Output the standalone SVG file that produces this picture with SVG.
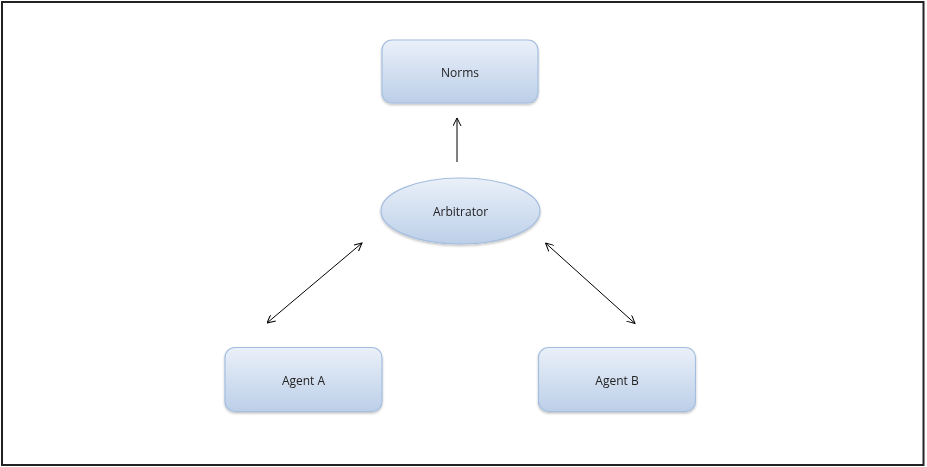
<svg xmlns="http://www.w3.org/2000/svg" width="927" height="467" viewBox="0 0 927 467">
<style>
.box{fill:url(#g);stroke:#a4bedf;stroke-width:1.2}
.lbl{font-family:"Open Sans","Liberation Sans",sans-serif;font-size:12px;fill:#222;text-anchor:middle;dominant-baseline:central}
.con{stroke:#000;stroke-width:1;fill:none;marker-end:url(#ah)}
.bi{marker-start:url(#as)}
</style>
<defs>
<linearGradient id="g" x1="0" y1="0" x2="0" y2="1">
<stop offset="0" stop-color="#eaf0f9"/>
<stop offset="1" stop-color="#bccfe8"/>
</linearGradient>
<filter id="sh" x="-10%" y="-10%" width="120%" height="130%">
<feDropShadow dx="0" dy="1.5" stdDeviation="1.2" flood-color="#000" flood-opacity="0.25"/>
</filter>
<marker id="ah" markerWidth="10" markerHeight="10" refX="8" refY="4" orient="auto" markerUnits="userSpaceOnUse">
<path d="M0,0 L8,4 L0,8" fill="none" stroke="#000" stroke-width="1"/>
</marker>
<marker id="as" markerWidth="10" markerHeight="10" refX="0" refY="4" orient="auto" markerUnits="userSpaceOnUse">
<path d="M8,0 L0,4 L8,8" fill="none" stroke="#000" stroke-width="1"/>
</marker>
</defs>
<rect x="0" y="0" width="927" height="467" fill="#fff"/>
<rect x="2" y="2" width="921.5" height="463" fill="none" stroke="#222" stroke-width="2"/>
<g id="norms" filter="url(#sh)">
<rect class="box" x="382" y="40" width="156" height="63" rx="10"/>
<text class="lbl" x="460" y="72">Norms</text>
</g>
<g id="arbitrator" filter="url(#sh)">
<ellipse class="box" cx="460.5" cy="211" rx="79.5" ry="33"/>
<text class="lbl" x="460.5" y="211">Arbitrator</text>
</g>
<g id="agentA" filter="url(#sh)">
<rect class="box" x="225" y="347.5" width="157" height="64" rx="10"/>
<text class="lbl" x="303.5" y="380">Agent A</text>
</g>
<g id="agentB" filter="url(#sh)">
<rect class="box" x="538.5" y="347.5" width="157" height="64" rx="10"/>
<text class="lbl" x="617" y="380">Agent B</text>
</g>
<g id="connectors">
<line class="con" x1="457" y1="162" x2="457" y2="118"/>
<line class="con bi" x1="267" y1="323" x2="362" y2="243"/>
<line class="con bi" x1="545.5" y1="243" x2="635" y2="323.5"/>
</g>
</svg>
